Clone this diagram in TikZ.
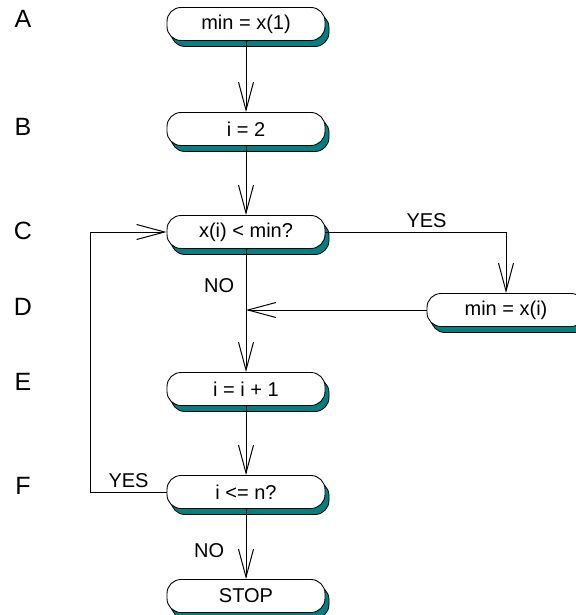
\documentclass[tikz,border=0pt]{standalone}
\usepackage{fontspec}
\setmainfont{Liberation Sans}
\usepackage{xcolor}
\usetikzlibrary{arrows.meta,shadows}
\definecolor{shadowteal}{RGB}{0,128,128}

\begin{document}
\begin{tikzpicture}[x=1pt,y=-1pt,
    box/.style={draw,line width=0.9pt,fill=white,rounded corners=14pt,
      minimum width=158pt,minimum height=33pt,inner sep=0pt,
      font=\fontsize{20}{24}\selectfont,
      drop shadow={shadow xshift=4pt,shadow yshift=-6pt,opacity=1,
        fill=shadowteal,draw=black,line width=0.8pt}},
    arr/.style={line width=1pt,-{Straight Barb[length=28pt,width=15pt]}},
    lbl/.style={font=\fontsize{20}{24}\selectfont},
    letter/.style={font=\fontsize{25}{30}\selectfont,inner sep=0pt}]
      \useasboundingbox (0,0) rectangle (575,615);
      % row letters
      \node[letter] (la) at (23,19) {A};
      \node[letter] (lb) at (23,127) {B};
      \node[letter] (lc) at (23,231) {C};
      \node[letter] (ld) at (23,307) {D};
      \node[letter] (le) at (23,382) {E};
      \node[letter] (lf) at (23,486) {F};
      % boxes
      \node[box] (a) at (246,24) {min = x(1)};
      \node[box] (b) at (246,129) {i = 2};
      \node[box] (c) at (246,232) {x(i) < min?};
      \node[box] (d) at (506,310) {min = x(i)};
      \node[box] (e) at (246,389) {i = i + 1};
      \node[box] (f) at (246,492) {i <= n?};
      \node[box] (stop) at (246,596) {STOP};
      % connectors
      \draw[arr] (a) -- (b);
      \draw[arr] (b) -- (c);
      \draw[arr] (c.east) -| node[lbl,pos=0.28,above] {YES} (d.north);
      \draw[arr] (c) -- node[lbl,pos=0.3,left=8pt] {NO} (e);
      \draw[arr] (d.west) -- (d.west -| c.south);
      \draw[arr] (e) -- (f);
      \draw[arr] (f.west) -- node[lbl,above] {YES} ++(-76,0) |- (c.west);
      \draw[arr] (f) -- node[lbl,pos=0.6,left=18pt] {NO} (stop);
    \end{tikzpicture}
\end{document}
